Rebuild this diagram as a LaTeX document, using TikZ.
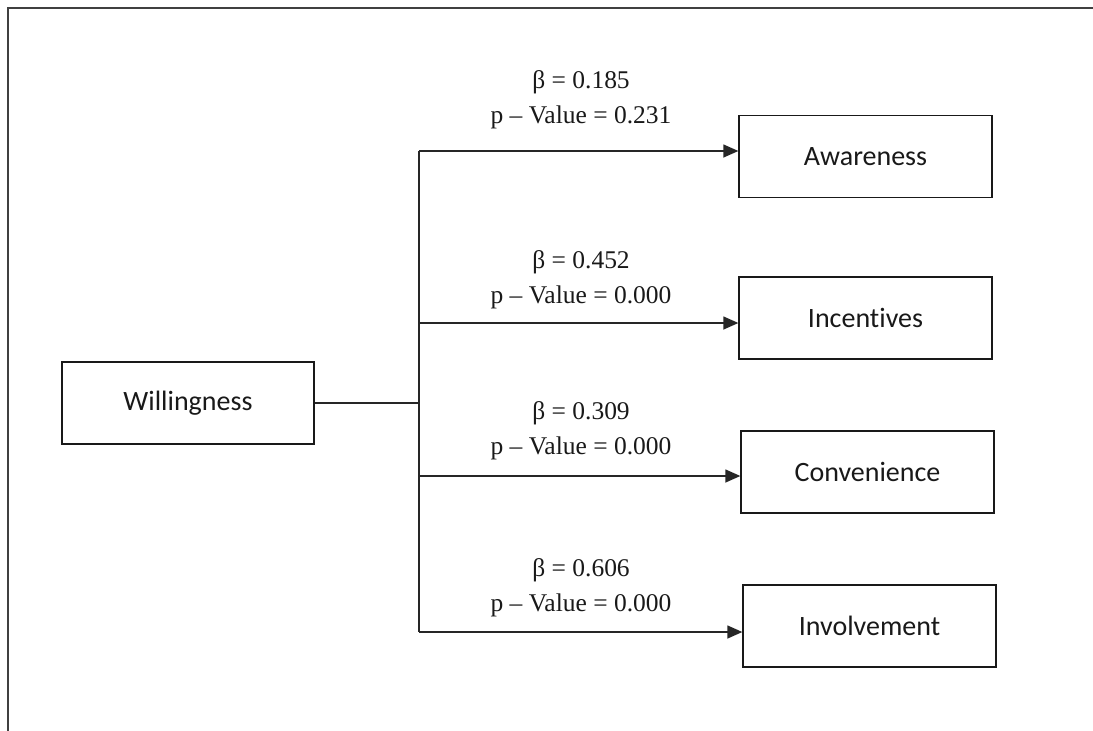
\documentclass[tikz,border=0pt]{standalone}
\usepackage{fontspec}
\setmainfont{Liberation Serif}
\newfontfamily\boxfont[Ligatures={NoCommon}]{Carlito}
\usetikzlibrary{arrows.meta}
\begin{document}
\begin{tikzpicture}[x=1pt,y=-1pt,
  box/.style={draw=black!90, line width=1.3pt, minimum width=253pt, minimum height=82pt, inner sep=0pt, font=\boxfont\fontsize{28}{34}\selectfont, text=black!90},
  lbl/.style={align=center, font=\fontsize{25.5}{35}\selectfont, text=black!90},
  conn/.style={draw=black!85, line width=1.3pt},
  arr/.style={conn, -{Triangle[length=15pt,width=13pt]}}]
\useasboundingbox (0,0) rectangle (1093,731);
\draw[line width=1.6pt, draw=black!75] (1093,8) -- (8,8) -- (8,731);

\node[box, minimum width=252pt] (will) at (188,403) {Willingness};
\node[box] (aw) at (865.5,156.5) {Awareness};
\node[box] (inc) at (865.5,318) {Incentives};
\node[box] (con) at (867.5,472) {Convenience};
\node[box] (inv) at (869.5,626) {Involvement};

\coordinate (jn) at (419,404);
\coordinate (t1) at (419,151);
\coordinate (t2) at (419,323);
\coordinate (t3) at (419,476);
\coordinate (t4) at (419,632);

\draw[conn] (will.east) -- (will.east -| jn);
\draw[conn] (t1) -- (t4);
\draw[arr] (t1) -- (t1 -| aw.west);
\draw[arr] (t2) -- (t2 -| inc.west);
\draw[arr] (t3) -- (t3 -| con.west);
\draw[arr] (t4) -- (t4 -| inv.west);

\node[lbl] (l1) at (581,100) {β = 0.185\\p – Value = 0.231};
\node[lbl] (l2) at (581,280) {β = 0.452\\p – Value = 0.000};
\node[lbl] (l3) at (581,431) {β = 0.309\\p – Value = 0.000};
\node[lbl] (l4) at (581,588) {β = 0.606\\p – Value = 0.000};
\end{tikzpicture}
\end{document}
